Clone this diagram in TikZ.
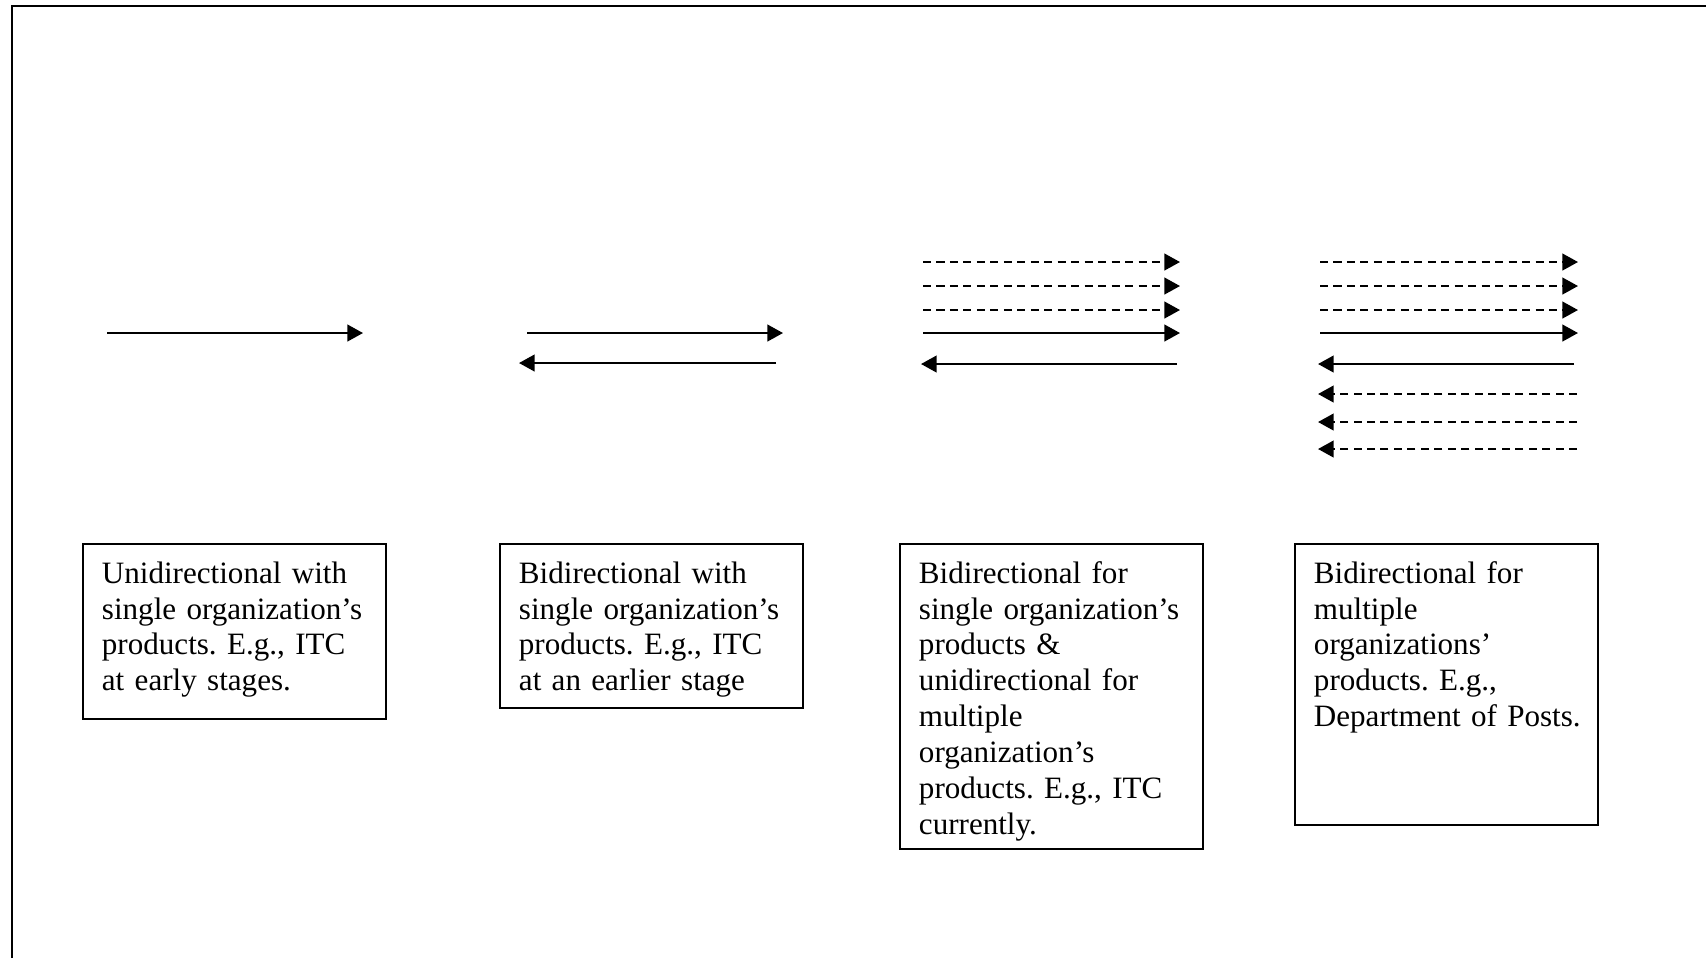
\documentclass[tikz,border=0pt]{standalone}
\usepackage{fontspec}
\setmainfont{Liberation Serif}
\usetikzlibrary{arrows.meta}
\tikzset{
  descbox/.style={draw, line width=0.8pt, anchor=north west, text width=102.4pt, align=left,
    inner xsep=7.3pt, inner ysep=6.8pt, text height=8.3pt, font=\fontsize{12}{13.86}\selectfont\frenchspacing},
  flow/.style={line width=0.8pt, -{Triangle[length=6pt, width=6.4pt]}},
  dashflow/.style={flow, dash pattern=on 3.1pt off 2.1pt}
}
\begin{document}
\begin{tikzpicture}[x=0.3861pt, y=-0.3861pt]
        \useasboundingbox (0, 0) rectangle (1706, 958);
        \draw[line width=0.8pt] (12, 958) -- (12, 6) -- (1706, 6);

        \draw[flow] (107, 333) -- (363, 333);

        \draw[flow] (527, 333) -- (783, 333);
        \draw[flow] (776, 363) -- (519, 363);

        \draw[dashflow] (923, 262) -- (1180, 262);
        \draw[dashflow] (923, 286) -- (1180, 286);
        \draw[dashflow] (923, 310) -- (1180, 310);
        \draw[flow] (923, 333) -- (1180, 333);
        \draw[flow] (1177, 364) -- (921, 364);

        \draw[dashflow] (1320, 262) -- (1578, 262);
        \draw[dashflow] (1320, 286) -- (1578, 286);
        \draw[dashflow] (1320, 310) -- (1578, 310);
        \draw[flow] (1320, 333) -- (1578, 333);
        \draw[flow] (1574, 364) -- (1318, 364);
        \draw[dashflow] (1577, 394) -- (1318, 394);
        \draw[dashflow] (1577, 422) -- (1318, 422);
        \draw[dashflow] (1577, 449) -- (1318, 449);

        \node[descbox, text depth=45.7pt] (unibox) at (82, 543)
          {Unidirectional with\\single organization’s\\products. E.g., ITC\\at early stages.};
        \node[descbox, text depth=41.4pt] (bibox) at (499, 543)
          {Bidirectional with\\single organization’s\\products. E.g., ITC\\at an earlier stage};
        \node[descbox, text depth=95.9pt] (mixbox) at (899, 543)
          {Bidirectional for\\single organization’s\\products \&\\unidirectional for\\multiple\\organization’s\\products. E.g., ITC\\currently.};
        \node[descbox, text depth=86.6pt] (multibox) at (1294, 543)
          {Bidirectional for\\multiple\\organizations’\\products. E.g.,\\Department~of~Posts.};
    \end{tikzpicture}
\end{document}
